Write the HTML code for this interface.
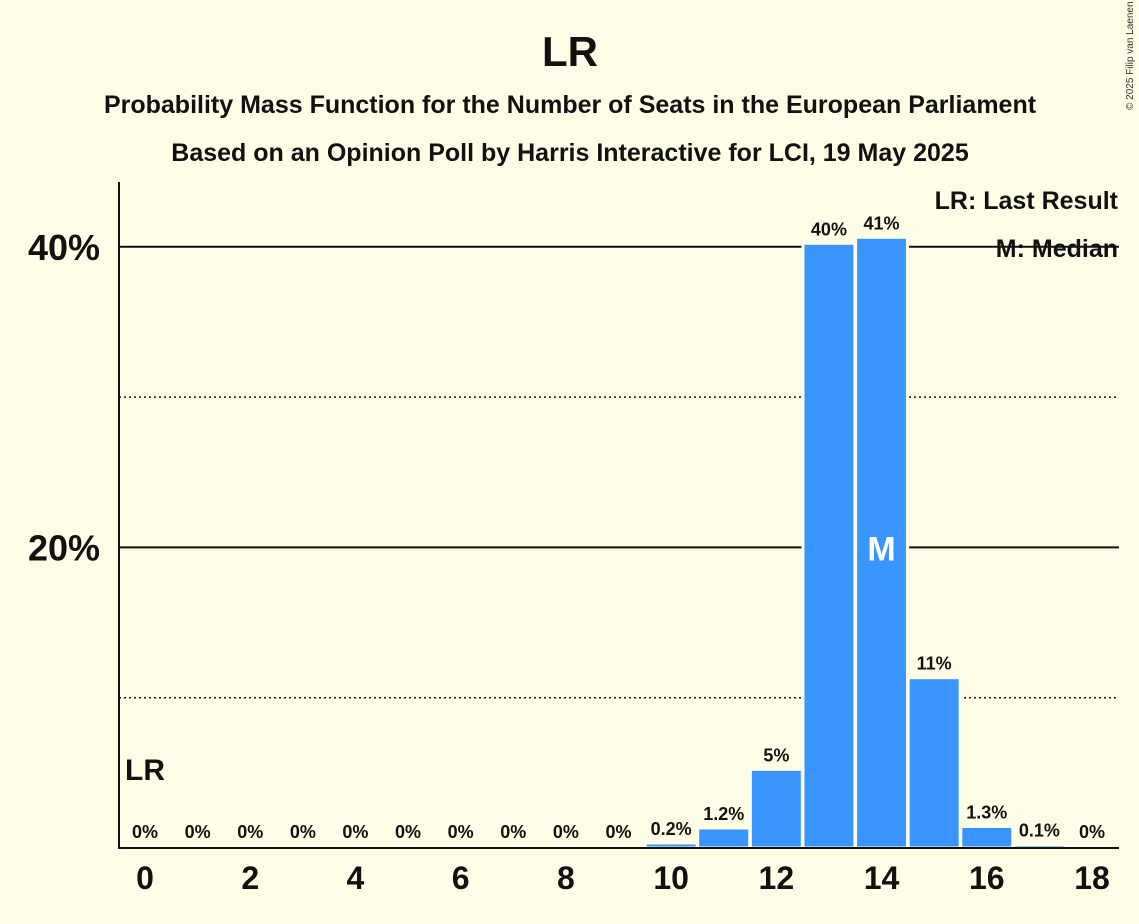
<!DOCTYPE html>
<html><head><meta charset="utf-8"><style>
html,body{margin:0;padding:0;background:#fffde6;}
svg{display:block;font-family:"Liberation Sans",sans-serif;}
</style></head><body>
<svg id="chart" width="1139" height="924" viewBox="0 0 1139 924">
<rect width="1139" height="924" fill="#fffde6"/>
<text x="570" y="66" text-anchor="middle" font-size="42" font-weight="bold" fill="#111">LR</text>
<text x="570" y="113" text-anchor="middle" font-size="25" font-weight="bold" fill="#111">Probability Mass Function for the Number of Seats in the European Parliament</text>
<text x="570" y="161" text-anchor="middle" font-size="25" font-weight="bold" fill="#111">Based on an Opinion Poll by Harris Interactive for LCI, 19 May 2025</text>
<text x="1133" y="110" font-size="10" fill="#333" transform="rotate(-90 1133 110)">© 2025 Filip van Laenen</text>
<g id="grid"></g>
<g id="bars"></g>
<g id="labels"></g>
<line x1="119" y1="182" x2="119" y2="849" stroke="#111" stroke-width="2"/>
<line x1="118" y1="848" x2="1119" y2="848" stroke="#111" stroke-width="2"/>
<text x="1118" y="209" text-anchor="end" font-size="25" font-weight="bold" fill="#111">LR: Last Result</text>
<text x="1118" y="257" text-anchor="end" font-size="25" font-weight="bold" fill="#111">M: Median</text>
<text x="145" y="780" text-anchor="middle" font-size="30" font-weight="bold" fill="#111">LR</text>
</svg>
<script>
const seats = [0,1,2,3,4,5,6,7,8,9,10,11,12,13,14,15,16,17,18];
const probs = [0,0,0,0,0,0,0,0,0,0,0.2,1.2,5.1,40.1,40.5,11.2,1.3,0.1,0];
const valueLabels = ["0%","0%","0%","0%","0%","0%","0%","0%","0%","0%","0.2%","1.2%","5%","40%","41%","11%","1.3%","0.1%","0%"];
const yTicks = [0,10,20,30,40];
const yTickLabels = ["","","20%","","40%"];
const xTickLabels = ["0","2","4","6","8","10","12","14","16","18"];
const xTickValues = [0,2,4,6,8,10,12,14,16,18];
const medianSeat = 14;
const NS = "http://www.w3.org/2000/svg";
const x = s => 145 + s * (1092 - 145) / 18;
const y = v => 848 - v * 15.03;
function mk(tag, attrs, parent){const e=document.createElementNS(NS,tag);for(const k in attrs)e.setAttribute(k,attrs[k]);parent.appendChild(e);return e;}
const grid=document.getElementById('grid'),bars=document.getElementById('bars'),labels=document.getElementById('labels'),svg=document.getElementById('chart');
yTicks.forEach((t,i)=>{
  if(t===0)return;
  const l=mk('line',{x1:119,x2:1119,y1:y(t),y2:y(t),stroke:'#111','stroke-width':t%20===0?2:1.5,'stroke-dasharray':t%20===0?'':'2,3'},grid);
  
  
  if(yTickLabels[i]){
    const tx=mk('text',{x:100,y:y(t)+13,'text-anchor':'end','font-size':36,'font-weight':'bold',fill:'#111'},labels);
    tx.textContent=yTickLabels[i];
    
    
  }
});
xTickValues.forEach((s,i)=>{
  const tx=mk('text',{x:x(s),y:889,'text-anchor':'middle','font-size':32,'font-weight':'bold',fill:'#111'},labels);
  tx.textContent=xTickLabels[i];
  
  
});
seats.forEach((s,i)=>{
  const v=probs[i];
  if(v>0){
    const r=mk('rect',{x:x(s)-26,width:52,y:y(v)-2,height:848-y(v)+2,fill:'#3a96ff',stroke:'#fffde6','stroke-width':3},bars);
    
    
  }
  const tx=mk('text',{x:x(s),y:(v>0?y(v):848)-10,'text-anchor':'middle','font-size':18,'font-weight':'bold',fill:'#111'},labels);
  tx.textContent=valueLabels[i];
  if(v>0){tx.setAttribute('stroke','#fffde6');tx.setAttribute('stroke-width','5');tx.setAttribute('paint-order','stroke');}
  
  
});
const mi=seats.indexOf(medianSeat);
const m=mk('text',{x:x(medianSeat),y:y(20)+13,'text-anchor':'middle','font-size':34,'font-weight':'bold',fill:'#fff'},labels);
m.textContent='M';


</script>
</body></html>
